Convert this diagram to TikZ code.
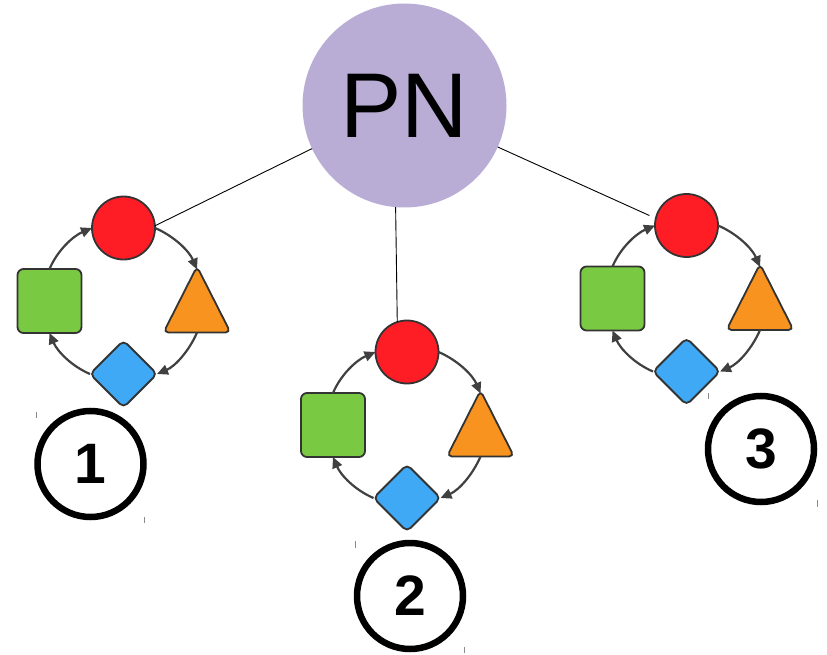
\documentclass[tikz,border=0pt]{standalone}
\usepackage{fontspec}
\setmainfont{Liberation Sans}
\usetikzlibrary{shapes.geometric,arrows.meta}

\definecolor{pnfill}{HTML}{B9ADD5}
\definecolor{redfill}{HTML}{FF1D25}
\definecolor{greenfill}{HTML}{7AC943}
\definecolor{orangefill}{HTML}{F7931E}
\definecolor{bluefill}{HTML}{3FA9F5}
\definecolor{outline}{HTML}{333333}
\definecolor{arrowgray}{HTML}{404040}
\definecolor{tickgray}{HTML}{8A8A8A}

\tikzset{
  shapeline/.style={draw=outline, line width=1.8pt},
  disc/.style={circle, shapeline, fill=redfill, minimum size=63pt, inner sep=0pt, outer sep=0pt},
  sqbox/.style={rectangle, rounded corners=6pt, shapeline, fill=greenfill, minimum size=64pt, inner sep=0pt, outer sep=0pt},
  gem/.style={diamond, rounded corners=5pt, shapeline, fill=bluefill, minimum size=67pt, inner sep=0pt, outer sep=0pt},
  tri/.style={shapeline, fill=orangefill, rounded corners=5pt, line join=round},
  flow/.style={draw=arrowgray, line width=2.2pt, -{Triangle[length=11pt,width=10pt]}, looseness=0.88},
  link/.style={draw=black, line width=0.9pt},
  pnnode/.style={circle, fill=pnfill, minimum size=204pt, inner sep=0pt, outer sep=0pt,
                 font=\fontsize{92}{92}\selectfont},
  badge/.style={circle, draw=black, line width=6.5pt, minimum size=106pt, inner sep=0pt, outer sep=0pt,
                font=\bfseries\fontsize{57}{57}\selectfont},
  tickmark/.style={draw=tickgray, line width=1pt},
  % one process cycle: circle -> triangle -> diamond -> square -> circle
  cyc/.pic={
    \node[disc] (-red) at (0,73) {};
    \node[sqbox] (-sq) at (-74,0) {};
    \node[gem] (-dia) at (0,-73) {};
    \draw[tri] (40,-31.5) -- (73.5,34.5) -- (107,-31.5) -- cycle;
    \coordinate (-top) at (73.5,31.5);
    \coordinate (-base) at (73.5,-31.5);
    \draw[flow] (-red.east) to[out=-23,in=113] (-top);
    \draw[flow] (-base) to[out=-113,in=23] (-dia.east);
    \draw[flow] (-dia.west) to[out=157,in=-67] (-sq.south);
    \draw[flow] (-sq.north) to[out=67,in=203] (-red.west);
  }
}

\begin{document}
\begin{tikzpicture}[x=1pt,y=1pt]
  \useasboundingbox (0,0) rectangle (827,-655);

  % root node and its links to the three cycles
  \node[pnnode] (pn) at (404.5,-105.5) {PN};
  \pic (c1) at (123.5,-301) {cyc};
  \pic (c2) at (407,-425) {cyc};
  \pic (c3) at (686.5,-298.5) {cyc};

  \draw[link] (pn.205) -- (c1-red.4);
  \draw[link] (pn.265) -- (c2-red.108);
  \draw[link, shorten >=7pt] (pn.336) -- (c3-red.167);

  % numbered badges
  \node[badge] (b1) at (90.5,-464) {1};
  \node[badge] (b2) at (410,-596) {2};
  \node[badge] (b3) at (761,-449) {3};

  % small corner marks
  \draw[tickmark] (36,-412) -- (36,-418);
  \draw[tickmark] (144,-517) -- (144,-523);
  \draw[tickmark] (355,-541) -- (355,-548);
  \draw[tickmark] (464,-647) -- (464,-653);
  \draw[tickmark] (708,-393) -- (708,-399);
  \draw[tickmark] (817,-500) -- (817,-507);
\end{tikzpicture}
\end{document}
